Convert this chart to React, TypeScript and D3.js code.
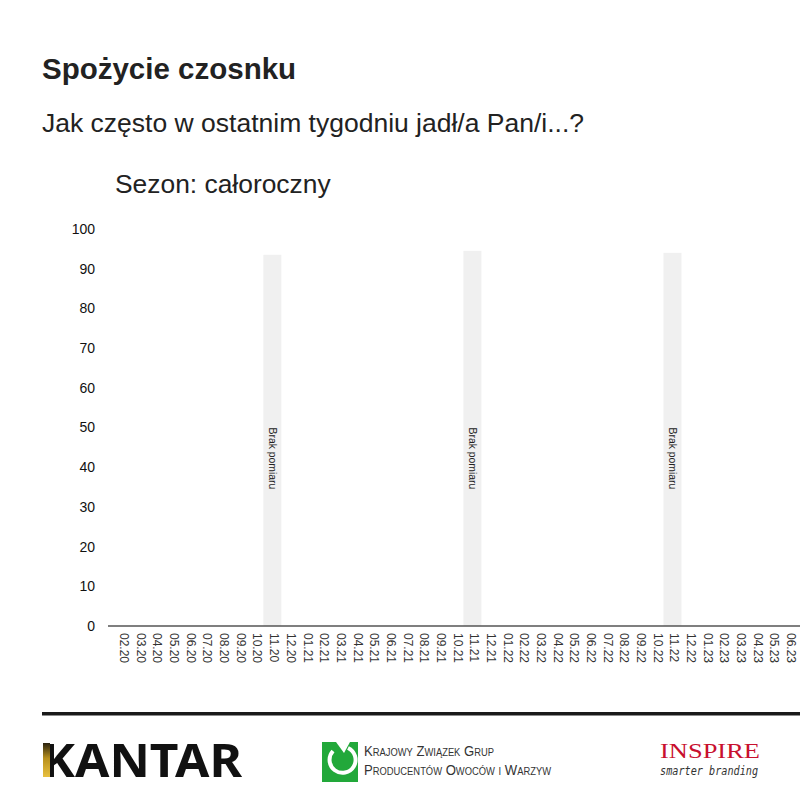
import React from 'react';
import * as d3 from 'd3';

// months shown on the x axis (the last one runs past the right edge)
const months = [
  '02.20', '03.20', '04.20', '05.20', '06.20', '07.20', '08.20', '09.20', '10.20', '11.20', '12.20',
  '01.21', '02.21', '03.21', '04.21', '05.21', '06.21', '07.21', '08.21', '09.21', '10.21', '11.21', '12.21',
  '01.22', '02.22', '03.22', '04.22', '05.22', '06.22', '07.22', '08.22', '09.22', '10.22', '11.22', '12.22',
  '01.23', '02.23', '03.23', '04.23', '05.23', '06.23', '07.23',
];

// grey "no measurement" blocks
const gapMonths = ['11.20', '11.21', '11.22'];
const gapValues = [93.5, 94.5, 94];
const gapLabel = 'Brak pomiaru';
const gapLabelAt = 50;

const yTicks = [0, 10, 20, 30, 40, 50, 60, 70, 80, 90, 100];

const title = 'Spożycie czosnku';
const question = 'Jak często w ostatnim tygodniu jadł/a Pan/i...?';
const season = 'Sezon: całoroczny';

const font = 'Arial, "Liberation Sans", sans-serif';

const App: React.FC = () => {
  const width = 800;
  const height = 800;

  const step = 16.67;
  const x = d3.scaleBand()
    .domain(months)
    .range([114, 114 + months.length * step])
    .padding(0);

  const y = d3.scaleLinear().domain([0, 100]).range([626, 229]);

  const barW = 18;

  return (
    <svg
      width={width}
      height={height}
      style={{ position: 'absolute', left: 0, top: 0, background: '#fff' }}
      fontFamily={font}
    >
      <defs>
        <linearGradient id="kgold" x1="0" y1="0" x2="0" y2="1">
          <stop offset="0%" stopColor="#2a2210" />
          <stop offset="45%" stopColor="#b8901c" />
          <stop offset="100%" stopColor="#e8c040" />
        </linearGradient>
      </defs>

      {/* headings */}
      <text x={42} y={79} fontSize={29.5} fontWeight="bold" fill="#222">{title}</text>
      <text x={42} y={132} fontSize={26.5} fill="#222">{question}</text>
      <text x={115} y={193} fontSize={26.4} fill="#222">{season}</text>

      {/* y tick labels */}
      {yTicks.map((t) => (
        <text key={t} x={95} y={y(t)} dy="0.35em" textAnchor="end" fontSize={14} fill="#111">{t}</text>
      ))}

      {/* no-measurement blocks */}
      {gapMonths.map((m, i) => {
        const cx = (x(m) ?? 0) + x.bandwidth() / 2;
        return (
          <g key={m}>
            <rect x={cx - barW / 2} y={y(gapValues[i])} width={barW} height={y(0) - y(gapValues[i])} fill="#f0f0f0" />
            <text
              transform={`translate(${cx},${y(gapLabelAt)}) rotate(90)`}
              dy="0.35em"
              fontSize={10.4}
              fill="#222"
            >{gapLabel}</text>
          </g>
        );
      })}

      {/* x axis */}
      <line x1={108} x2={width} y1={y(0)} y2={y(0)} stroke="#555" strokeWidth={1.3} />
      {months.map((m) => {
        const cx = (x(m) ?? 0) + x.bandwidth() / 2 + 2;
        return (
          <text key={m} transform={`translate(${cx},633) rotate(90)`} dy="0.35em" fontSize={12} fill="#333">{m}</text>
        );
      })}

      {/* footer rule */}
      <rect x={42} y={712} width={width - 42} height={3.5} fill="#1a1a1a" />

      {/* KANTAR */}
      <text x={42} y={777} fontSize={47} fontWeight="bold" fill="#111" textLength={200} lengthAdjust="spacingAndGlyphs"
        fontFamily='"Noto Sans", Arial, sans-serif'>KANTAR</text>
      <rect x={43} y={743} width={7} height={34} fill="url(#kgold)" />

      {/* KZGPOiW */}
      <rect x={322} y={742} width={36} height={40} fill="#22a83a" />
      <path d="M 333 751 A 13 13 0 1 0 348 748" fill="none" stroke="#fff" strokeWidth={4} />
      <path d="M 336 742 L 350 742 L 344 753 Z" fill="#fff" />
      <text x={364} y={756} fontSize={14} fill="#333" style={{ fontVariant: 'small-caps' }}
        textLength={130} lengthAdjust="spacingAndGlyphs">Krajowy Związek Grup</text>
      <text x={364} y={775} fontSize={14} fill="#333" style={{ fontVariant: 'small-caps' }}
        textLength={187} lengthAdjust="spacingAndGlyphs">Producentów Owoców i Warzyw</text>

      {/* INSPIRE */}
      <text x={660} y={758} fontSize={22} fill="#c8102e" fontFamily='"Liberation Serif", serif'
        textLength={100} lengthAdjust="spacingAndGlyphs">INSPIRE</text>
      <text x={660} y={775} fontSize={12} fill="#333" fontStyle="italic" fontFamily='"DejaVu Sans Mono", monospace'
        textLength={98} lengthAdjust="spacingAndGlyphs">smarter branding</text>
    </svg>
  );
};

export default App;
